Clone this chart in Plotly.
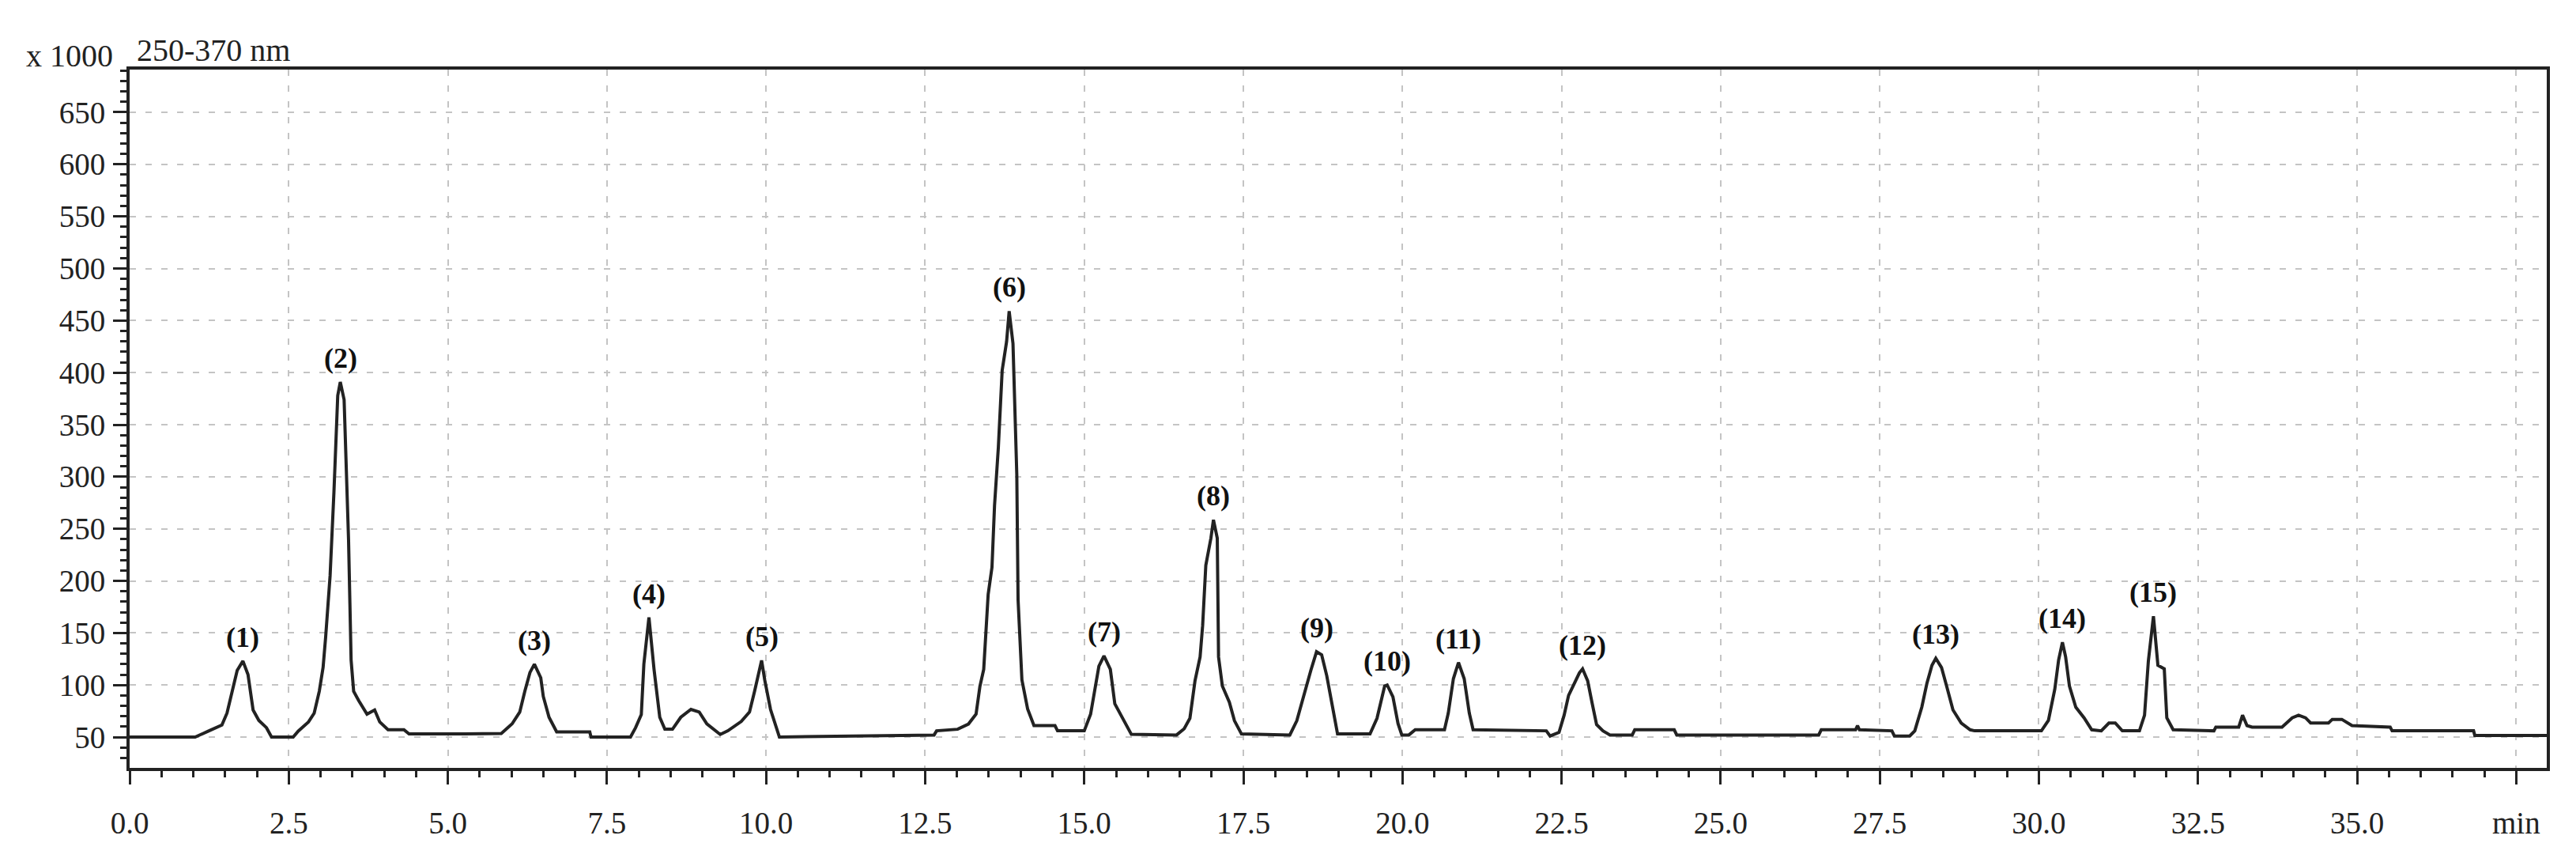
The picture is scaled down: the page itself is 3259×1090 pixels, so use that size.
import plotly.graph_objects as go
import numpy as np

# chromatogram trace (time in min, signal x1000)
time_min = [
    0.00, 1.03, 1.24, 1.45, 1.53, 1.61, 1.69, 1.78, 1.86, 1.94, 2.03, 2.15, 2.23,
    2.57, 2.65, 2.81, 2.90, 2.98, 3.04, 3.08, 3.15, 3.21, 3.27, 3.31, 3.37, 3.44,
    3.48, 3.52, 3.60, 3.73, 3.85, 3.93, 4.06, 4.31, 4.39, 5.26,
    5.84, 6.01, 6.13, 6.21, 6.29, 6.36, 6.46, 6.50, 6.59, 6.71, 7.23, 7.25, 7.87,
    7.95, 8.04, 8.08, 8.16, 8.24, 8.33, 8.41, 8.53, 8.66, 8.82, 8.95, 9.07, 9.28,
    9.40, 9.61, 9.74, 9.82, 9.88, 9.93, 9.98, 10.07, 10.21, 11.23,
    12.64, 12.68, 13.01, 13.18, 13.30, 13.36, 13.42, 13.49, 13.55, 13.59, 13.65,
    13.71, 13.78, 13.82, 13.88, 13.94, 13.96, 14.02, 14.11, 14.21, 14.54, 14.58,
    15.00, 15.10, 15.16, 15.23, 15.31, 15.41, 15.48, 15.62, 15.74, 16.45,
    16.57, 16.66, 16.74, 16.82, 16.86, 16.91, 16.99, 17.03, 17.09, 17.11, 17.17,
    17.28, 17.36, 17.47, 18.23, 18.34, 18.44, 18.56, 18.65, 18.73, 18.81, 18.89,
    18.98, 19.49, 19.60, 19.72, 19.76, 19.85, 19.93, 19.99, 20.10, 20.20, 20.66,
    20.72, 20.80, 20.88, 20.97, 21.05, 21.11, 22.26,
    22.32, 22.46, 22.54, 22.61, 22.70, 22.78, 22.83, 22.91, 22.98, 23.05, 23.15,
    23.26, 23.61, 23.65, 24.27, 24.31, 26.54, 26.58, 27.12, 27.15, 27.18, 27.69,
    27.73, 27.97,
    28.05, 28.16, 28.24, 28.32, 28.38, 28.47, 28.55, 28.65, 28.78, 28.92, 28.99,
    30.04, 30.15, 30.25, 30.31, 30.37, 30.42, 30.48, 30.58, 30.71, 30.83, 30.98,
    31.10, 31.20, 31.31, 31.58, 31.66, 31.72, 31.80, 31.87, 31.97, 32.01, 32.11,
    32.75, 32.78, 33.14, 33.20, 33.27, 33.35, 33.82, 33.98, 34.08, 34.19, 34.27,
    34.55, 34.61, 34.76, 34.92, 35.52, 35.55, 36.83, 36.85, 37.98,
]
signal = [
    50, 50, 55.8, 61.6, 73, 93.6, 114, 123, 110, 76, 66, 59, 50,
    50, 55.8, 64.5, 73, 94, 117, 146, 205, 285, 378, 391, 374, 239,
    124, 94, 85, 72, 76, 64.5, 57, 57, 53, 53,
    53.5, 62.7, 74, 94, 112, 120, 107, 89, 69, 55, 55, 50, 50,
    59, 71.6, 120, 165, 115, 69, 57.6, 57.6, 69, 76.6, 74, 62.7, 52.5,
    56, 65, 74, 94, 110, 123.6, 104.6, 76.6, 50, 51,
    52, 56, 57.5, 62.5, 72, 98.5, 115, 187, 213, 272, 328,
    402, 430, 459, 428, 302, 182, 105, 77, 61, 61, 56,
    56, 72, 95, 118, 128, 115, 82, 66, 52.6, 52,
    58, 68, 104, 127, 157, 215, 241, 258.6, 241, 127, 99,
    83.5, 65.7, 53, 52, 65.7, 88.6, 114, 132, 129, 109, 81,
    53, 53, 68, 99, 100, 88.6, 63, 52, 52, 57, 57,
    73, 106, 121.6, 106, 73, 57, 56,
    51, 54.6, 71, 90, 101.5, 111.7, 115.5, 104, 82.5, 62, 56,
    52, 52, 57, 57, 52, 52, 57, 57, 61, 57, 56,
    51, 51,
    56, 78.7, 101.5, 119, 125.6, 116.8, 99, 76, 63.5, 57, 56,
    56, 66, 96, 124, 141, 127, 99, 78.7, 68.5, 57, 56,
    63.5, 63.5, 56, 56, 71, 123, 166, 119, 115.5, 68.5, 57,
    56, 59.6, 59.6, 71, 61, 59.6, 59.6, 68.5, 71, 68.5, 63.5,
    63.5, 67, 67, 61, 59.6, 56, 56, 51.5, 51.5,
]

peak_labels = ["(1)", "(2)", "(3)", "(4)", "(5)", "(6)", "(7)", "(8)",
               "(9)", "(10)", "(11)", "(12)", "(13)", "(14)", "(15)"]
peak_times = [1.78, 3.31, 6.36, 8.16, 9.93, 13.82, 15.31, 17.03,
              18.65, 19.76, 20.88, 22.83, 28.38, 30.37, 31.80]

x_ticks = [0, 2.5, 5, 7.5, 10, 12.5, 15, 17.5, 20, 22.5, 25, 27.5, 30, 32.5, 35, 37.5]
x_ticktext = ["0.0", "2.5", "5.0", "7.5", "10.0", "12.5", "15.0", "17.5", "20.0",
              "22.5", "25.0", "27.5", "30.0", "32.5", "35.0", "min"]
y_ticks = [50, 100, 150, 200, 250, 300, 350, 400, 450, 500, 550, 600, 650]

SERIF = "Liberation Serif, Times New Roman, serif"
INK = "#222222"
GRID = "#c4c4c4"

t = np.array(time_min)
s = np.array(signal)

fig = go.Figure()
fig.add_trace(go.Scatter(
    x=t, y=s, mode="lines",
    line=dict(color=INK, width=4),
    hoverinfo="x+y", showlegend=False,
))

# peak numbers sit on the apex found in the trace
for lab, pt in zip(peak_labels, peak_times):
    win = np.abs(t - pt) <= 0.08
    fig.add_annotation(
        x=pt, y=s[win].max(), text="<b>" + lab + "</b>",
        showarrow=False, yanchor="bottom", yshift=8,
        font=dict(family=SERIF, size=36, color="#111111"),
    )

fig.add_annotation(x=23, y=63, xref="paper", yref="paper", text="x 1000",
                   showarrow=False, xanchor="left", yanchor="middle",
                   font=dict(family=SERIF, size=40, color=INK))
fig.add_annotation(x=163, y=55, xref="paper", yref="paper", text="250-370 nm",
                   showarrow=False, xanchor="left", yanchor="middle",
                   font=dict(family=SERIF, size=40, color=INK))

W, H = 3259, 1090
L, R, T, B = 156, 45, 80, 127
# convert the two header annotations from pixels to paper coords
for a in fig.layout.annotations[-2:]:
    a.x = (a.x - L) / (W - L - R)
    a.y = 1 + (T - a.y) / (H - T - B)

fig.update_xaxes(
    range=[0, 37.98], automargin=False,
    tickmode="array", tickvals=x_ticks, ticktext=x_ticktext,
    ticks="outside", ticklen=17, tickwidth=3, tickcolor=INK,
    ticklabelstandoff=15,
    minor=dict(dtick=0.5, tick0=0, ticks="outside", ticklen=8, tickwidth=3,
               tickcolor=INK, showgrid=False),
    showgrid=True, gridcolor=GRID, gridwidth=2, griddash="8px,12px",
    showline=True, linecolor=INK, linewidth=4, mirror=True,
    zeroline=False,
    tickfont=dict(family=SERIF, size=39, color=INK),
)
fig.update_yaxes(
    range=[20.4, 691], automargin=False,
    tickmode="array", tickvals=y_ticks,
    ticks="outside", ticklen=17, tickwidth=3, tickcolor=INK,
    ticklabelstandoff=2,
    minor=dict(dtick=10, tick0=0, ticks="outside", ticklen=8, tickwidth=3,
               tickcolor=INK, showgrid=False),
    showgrid=True, gridcolor=GRID, gridwidth=2, griddash="8px,12px",
    showline=True, linecolor=INK, linewidth=4, mirror=True,
    zeroline=False,
    tickfont=dict(family=SERIF, size=39, color=INK),
)

fig.update_layout(
    width=W, height=H,
    margin=dict(l=L, r=R, t=T, b=B),
    paper_bgcolor="white", plot_bgcolor="white",
    showlegend=False,
)

fig.write_html("out.html")
